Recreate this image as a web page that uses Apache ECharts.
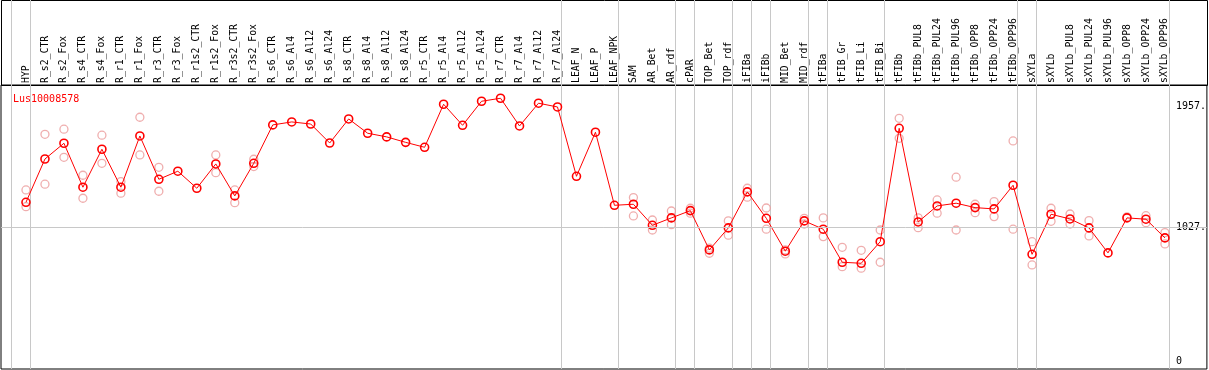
<!DOCTYPE html>
<html>
<head>
<meta charset="utf-8">
<script src="https://cdn.jsdelivr.net/npm/echarts@6/dist/echarts.min.js"></script>
<style>
  html, body { margin: 0; padding: 0; background: #fff; }
  #chart { width: 1209px; height: 370px; }
</style>
</head>
<body>
<div id="chart"></div>
<script>
var categories = ['HYP',
  'R_s2_CTR', 'R_s2_Fox', 'R_s4_CTR', 'R_s4_Fox', 'R_r1_CTR', 'R_r1_Fox', 'R_r3_CTR', 'R_r3_Fox',
  'R_r1s2_CTR', 'R_r1s2_Fox', 'R_r3s2_CTR', 'R_r3s2_Fox', 'R_s6_CTR', 'R_s6_Al4', 'R_s6_Al12', 'R_s6_Al24',
  'R_s8_CTR', 'R_s8_Al4', 'R_s8_Al12', 'R_s8_Al24', 'R_r5_CTR', 'R_r5_Al4', 'R_r5_Al12', 'R_r5_Al24',
  'R_r7_CTR', 'R_r7_Al4', 'R_r7_Al12', 'R_r7_Al24',
  'LEAF_N', 'LEAF_P', 'LEAF_NPK', 'SAM', 'AR_Bet', 'AR_rdf', 'cPAR', 'TOP_Bet', 'TOP_rdf',
  'iFIBa', 'iFIBb', 'MID_Bet', 'MID_rdf', 'tFIBa', 'tFIB_Gr', 'tFIB_Li', 'tFIB_Bi',
  'tFIBb', 'tFIBb_PUL8', 'tFIBb_PUL24', 'tFIBb_PUL96', 'tFIBb_OPP8', 'tFIBb_OPP24', 'tFIBb_OPP96',
  'sXYLa', 'sXYLb', 'sXYLb_PUL8', 'sXYLb_PUL24', 'sXYLb_PUL96', 'sXYLb_OPP8', 'sXYLb_OPP24', 'sXYLb_OPP96'];

// number of categories in each separated group (left to right)
var groupSizes = [1, 28, 3, 3, 1, 2, 1, 1, 2, 1, 3, 7, 1, 7];

// mean expression
var means = [1222, 1555, 1676, 1338, 1630, 1338, 1732, 1399, 1461, 1330, 1517, 1271, 1522,
  1817, 1840, 1824, 1678, 1863, 1753, 1725, 1683, 1645, 1976, 1814, 1999, 2022, 1809, 1984, 1955,
  1422, 1761, 1199, 1207, 1045, 1102, 1158, 856, 1025, 1302, 1099, 846, 1079, 1015, 761, 753, 919,
  1791, 1071, 1194, 1215, 1181, 1171, 1353, 822, 1130, 1094, 1025, 833, 1102, 1092, 948];

// replicates (null = hidden under the mean marker)
var repHigh = [1317, 1745, 1784, 1430, 1738, 1381, 1876, 1491, null, null, 1586, 1317, 1553,
  null, null, null, null, null, null, null, null, null, null, null, null, null, null, null, null,
  null, null, null, 1258, 1086, 1155, 1176, 869, 1079, 1330, 1178, 856, 1099, 1102, 876, 853, 1009,
  1868, 1102, 1240, 1415, 1207, 1227, 1694, 919, 1176, 1132, 1081, null, 1110, 1119, 989];
var repLow = [1188, 1361, 1568, 1253, 1522, 1292, 1586, 1307, null, null, 1450, 1219, 1497,
  null, null, null, null, null, null, null, null, null, null, null, null, null, null, null, null,
  null, null, null, 1117, 1009, 1050, 1138, 830, 969, 1261, 1015, 825, 1055, 958, 727, 715, 761,
  1714, 1027, 1138, 1009, 1142, 1112, 1015, 740, 1076, 1055, 963, null, null, 1065, 902];

var yTicks = [0, 1027, 1957];
var yTickLabels = ['0', '1027.', '1957.'];
var refLine = 1027;
var title = 'Lus10008578';

var mono = 'DejaVu Sans Mono';

// category centres sit 15/19 of a band right of the group boundary
var sepValues = [];
var k = 0;
sepValues.push(k - 15 / 19);
for (var g = 0; g < groupSizes.length; g++) {
  k += groupSizes[g];
  sepValues.push(k - 15 / 19);
}

var idx = categories.map(function (c, i) { return i; });
var meanData = means.map(function (v, i) { return [i, v]; });
var repData = [];
for (var i = 0; i < categories.length; i++) {
  if (repHigh[i] != null) repData.push([i, repHigh[i]]);
  if (repLow[i] != null) repData.push([i, repLow[i]]);
}

var xMin = -25 / 19;
var xMax = 1182 / 19;

var myChart = echarts.init(document.getElementById('chart'));

var option = {
  animation: false,
  title: {
    text: title,
    left: 8,
    top: 89,
    textStyle: { color: '#ff0000', fontFamily: mono, fontSize: 10, fontWeight: 'normal' }
  },
  graphic: [{
    type: 'rect',
    shape: { x: 1.5, y: 0.5, width: 1206, height: 85 },
    style: { fill: 'none', stroke: '#000', lineWidth: 1 },
    silent: true
  }],
  grid: {
    left: 1, right: 1, top: 85, bottom: 1,
    show: true, borderColor: '#000', borderWidth: 1, backgroundColor: 'transparent'
  },
  xAxis: [{
    type: 'value',
    position: 'top',
    min: xMin,
    max: xMax,
    axisLine: { show: false },
    axisTick: { show: false },
    splitLine: { show: false },
    axisLabel: {
      customValues: idx,
      rotate: 90,
      margin: 2,
      color: '#000',
      fontFamily: mono,
      fontSize: 9.8,
      formatter: function (v) { return categories[Math.round(v)]; }
    }
  }, {
    type: 'value',
    position: 'bottom',
    min: xMin,
    max: xMax,
    axisLine: { show: false, onZero: false },
    axisLabel: { show: false },
    splitLine: { show: false },
    axisTick: {
      show: true,
      inside: true,
      length: 369,
      customValues: sepValues,
      lineStyle: { color: '#c8c8c8', width: 1 }
    }
  }],
  yAxis: {
    type: 'value',
    position: 'right',
    min: -60,
    max: 2124,
    axisLine: { show: false },
    axisTick: { show: false },
    splitLine: { show: false },
    axisLabel: {
      customValues: yTicks,
      inside: true,
      align: 'left',
      margin: 31,
      color: '#000',
      fontFamily: mono,
      fontSize: 10,
      backgroundColor: '#fff',
      formatter: function (v) { return yTickLabels[yTicks.indexOf(v)]; }
    }
  },
  series: [{
    type: 'scatter',
    data: repData,
    symbol: 'circle',
    symbolSize: 8,
    z: 2,
    itemStyle: { color: 'rgba(0,0,0,0)', borderColor: '#eb9a9a', borderWidth: 1.3 },
    silent: true
  }, {
    type: 'line',
    data: meanData,
    symbol: 'circle',
    symbolSize: 8,
    z: 3,
    lineStyle: { color: '#ff0000', width: 1 },
    itemStyle: { color: 'rgba(0,0,0,0)', borderColor: '#ff0000', borderWidth: 1.6 },
    markLine: {
      silent: true,
      symbol: 'none',
      label: { show: false },
      lineStyle: { color: '#c8c8c8', type: 'solid', width: 1 },
      data: [{ yAxis: refLine }]
    }
  }]
};

myChart.setOption(option);
</script>
</body>
</html>
